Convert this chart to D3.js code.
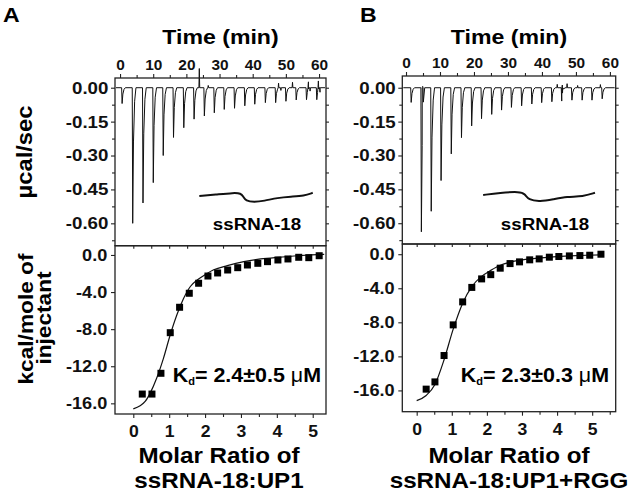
<!DOCTYPE html>
<meta charset="utf-8">
<style>
body { margin: 0; background: #fff; }
svg { font-family: "Liberation Sans", Arial, sans-serif; font-weight: bold; }
.frame { fill: none; stroke: #222; stroke-width: 1.3; }
.axis path { display: none; }
.axis line { stroke: #222; stroke-width: 1.1; }
.axis text { fill: #111; font-weight: bold; font-family: "Liberation Sans", Arial, sans-serif; }
</style>
<svg width="629" height="494"></svg>
<script src="https://d3js.org/d3.v7.min.js"></script>
<script>

// raw thermograms: injection time (min) and peak height (µcal/sec)
var injTimeA = [0.5, 3.7, 6.8, 9.9, 12.9, 16.0, 19.1, 22.2, 25.3, 28.3, 31.3, 34.4, 37.5, 40.5, 43.7, 46.8, 49.9, 53.0, 56.1, 59.2];
var peakA = [-0.07, -0.60, -0.51, -0.42, -0.30, -0.22, -0.177, -0.139, -0.125, -0.111, -0.096, -0.091, -0.080, -0.073, -0.066, -0.066, -0.060, -0.054, -0.053, -0.053];
var noiseTimeA = [23.9, 26.6, 47.8, 48.5, 52.0, 56.8, 57.3, 59.8, 60.3];
var noiseA = [0.085, 0.010, 0.020, -0.012, 0.024, 0.026, -0.015, 0.030, -0.020];

var injTimeB = [1.4, 4.4, 7.3, 10.2, 13.2, 16.2, 19.2, 22.1, 25.1, 28.0, 30.9, 33.9, 36.9, 39.8, 42.8, 45.7, 48.7, 51.7, 54.6, 57.6];
var peakB = [-0.065, -0.638, -0.547, -0.411, -0.293, -0.221, -0.169, -0.137, -0.118, -0.099, -0.087, -0.080, -0.072, -0.066, -0.062, -0.059, -0.055, -0.055, -0.055, -0.049];
var noiseTimeB = [4.9, 44.5, 46.0, 47.4, 50.5, 57.2];
var noiseB = [0.006, 0.015, 0.012, 0.018, 0.010, 0.014];

// integrated heats: molar ratio and kcal/mole of injectant
var ratioA = [0.25, 0.52, 0.77, 1.03, 1.29, 1.56, 1.82, 2.08, 2.35, 2.63, 2.91, 3.18, 3.47, 3.74, 4.03, 4.31, 4.61, 4.89, 5.18];
var heatA = [-15.0, -15.0, -12.76, -8.38, -5.64, -4.13, -3.05, -2.27, -1.94, -1.62, -1.37, -1.08, -0.90, -0.72, -0.54, -0.43, -0.25, -0.29, -0.08];
var fitRatioA = [0.0, 0.19, 0.33, 0.47, 0.65, 0.84, 1.03, 1.21, 1.40, 1.59, 1.78, 2.01, 2.24, 2.62, 3.08, 3.55, 4.02, 4.48, 4.95, 5.32];
var fitHeatA = [-16.6, -16.25, -15.8, -14.9, -13.3, -11.15, -8.6, -6.5, -4.7, -3.4, -2.7, -2.1, -1.6, -1.15, -0.72, -0.43, -0.25, -0.11, 0.0, 0.07];

var ratioB = [0.27, 0.52, 0.78, 1.04, 1.31, 1.57, 1.85, 2.11, 2.38, 2.66, 2.93, 3.22, 3.49, 3.78, 4.05, 4.35, 4.65, 4.93, 5.25];
var heatB = [-15.85, -15.0, -11.9, -8.3, -5.6, -3.9, -2.9, -2.4, -1.64, -1.1, -0.9, -0.66, -0.55, -0.35, -0.27, -0.2, -0.16, -0.12, 0.0];
var fitRatioB = [0.0, 0.27, 0.52, 0.78, 1.04, 1.31, 1.57, 1.85, 2.11, 2.38, 2.66, 2.94, 3.42, 3.89, 4.36, 4.84, 5.25];
var fitHeatB = [-17.2, -16.6, -15.3, -12.4, -8.8, -5.75, -3.8, -2.6, -1.9, -1.3, -0.94, -0.7, -0.47, -0.31, -0.2, -0.12, -0.08];

// ssRNA cartoon drawn inside the thermogram (time, µcal/sec)
var rnaTimeA = [23.9, 29.3, 34.3, 36.4, 37.2, 37.9, 40.4, 43.4, 47.5, 51.5, 55.5, 58.1];
var rnaValA = [-0.479, -0.472, -0.465, -0.467, -0.482, -0.501, -0.506, -0.501, -0.487, -0.482, -0.479, -0.465];
var rnaTimeB = [22.7, 27.6, 33.5, 35.0, 36.0, 39.4, 43.3, 47.3, 52.1, 55.6];
var rnaValB = [-0.475, -0.465, -0.46, -0.47, -0.497, -0.504, -0.494, -0.482, -0.482, -0.465];

var timeTicks = [0, 10, 20, 30, 40, 50, 60];
var powerTicks = [0, -0.15, -0.30, -0.45, -0.60];
var heatTicks = [0, -4, -8, -12, -16];
var ratioTicks = [0, 1, 2, 3, 4, 5];

var svg = d3.select("svg");
var STRETCH = "scale(1.1,1)";

function thermoPoints(times, peaks, nTimes, nVals, t0, t1) {
  var pts = [[t0, 0], [t1, 0]];
  times.forEach(function(t, i) {
    var d = peaks[i];
    pts.push([t - 0.02, 0], [t + 0.12, d], [t + 0.35, d * 0.4], [t + 0.7, d * 0.1], [t + 1.1, 0]);
  });
  nTimes.forEach(function(t, i) {
    pts.push([t - 0.12, 0], [t, nVals[i]], [t + 0.12, 0]);
  });
  return pts.sort(function(a, b) { return a[0] - b[0]; });
}

function label(x, y, size, txt, anchor) {
  return svg.append("text").attr("transform", "translate(" + x + "," + y + ") " + STRETCH)
    .attr("text-anchor", anchor || "middle").style("font-size", size + "px").text(txt);
}

function panel(c) {
  var g = svg.append("g");
  var xT = d3.scaleLinear().domain(c.tDom).range([c.x0, c.x1]);
  var yT = d3.scaleLinear().domain(c.pDom).range([c.yTop, c.yMid]);
  var xM = d3.scaleLinear().domain(c.mDom).range([c.x0, c.x1]);
  var yM = d3.scaleLinear().domain(c.hDom).range([c.yMid, c.yBot]);

  // top plot axes
  g.append("g").attr("class", "axis").attr("transform", "translate(0," + c.yTop + ")")
    .call(d3.axisTop(xT).tickValues(timeTicks).tickSize(4).tickPadding(4).tickFormat(d3.format("d")))
    .selectAll("text").style("font-size", "14px").attr("transform", STRETCH);
  g.append("g").attr("class", "axis").attr("transform", "translate(0," + c.yTop + ")")
    .call(d3.axisTop(xT).tickValues(d3.range(5, 61, 10)).tickSize(3).tickFormat(""));
  g.append("g").attr("class", "axis").attr("transform", "translate(" + c.x0 + ",0)")
    .call(d3.axisLeft(yT).tickValues(powerTicks).tickSize(4).tickPadding(2)
      .tickFormat(function(d) { return d.toFixed(2); }))
    .selectAll("text").style("font-size", "17px").attr("transform", STRETCH);
  g.append("g").attr("class", "axis").attr("transform", "translate(" + c.x0 + ",0)")
    .call(d3.axisLeft(yT).tickValues(d3.range(-0.075, -0.7, -0.15)).tickSize(3).tickFormat(""));
  g.append("g").attr("class", "axis").attr("transform", "translate(" + c.x1 + ",0)")
    .call(d3.axisRight(yT).tickValues(d3.range(0, -0.7, -0.075)).tickSize(3).tickFormat(""));

  // thermogram trace
  var trace = thermoPoints(c.inj, c.peak, c.nT, c.nV, c.tDom[0] + 0.3, c.tDom[1] - 0.3);
  g.append("path").datum(trace)
    .attr("fill", "none").attr("stroke", "#111").attr("stroke-width", 1)
    .attr("d", d3.line().x(function(d) { return xT(d[0]); }).y(function(d) { return yT(d[1]); }));

  // ssRNA cartoon
  g.append("path").datum(d3.zip(c.rnaT, c.rnaV))
    .attr("fill", "none").attr("stroke", "#111").attr("stroke-width", 2)
    .attr("d", d3.line().curve(d3.curveBasis)
      .x(function(d) { return xT(d[0]); }).y(function(d) { return yT(d[1]); }));
  label(c.rnaLabelX, 230, 17, "ssRNA-18");

  g.append("rect").attr("class", "frame")
    .attr("x", c.x0).attr("y", c.yTop).attr("width", c.x1 - c.x0).attr("height", c.yMid - c.yTop);

  // lower plot axes
  g.append("g").attr("class", "axis").attr("transform", "translate(0," + c.yBot + ")")
    .call(d3.axisBottom(xM).tickValues(ratioTicks).tickSize(4).tickPadding(8).tickFormat(d3.format("d")))
    .selectAll("text").style("font-size", "16px").attr("transform", STRETCH);
  g.append("g").attr("class", "axis").attr("transform", "translate(0," + c.yBot + ")")
    .call(d3.axisBottom(xM).tickValues(d3.range(0.5, c.mDom[1], 1)).tickSize(3).tickFormat(""));
  g.append("g").attr("class", "axis").attr("transform", "translate(0," + c.yMid + ")")
    .call(d3.axisBottom(xM).tickValues(d3.range(0, c.mDom[1], 0.5)).tickSize(3).tickFormat(""));
  g.append("g").attr("class", "axis").attr("transform", "translate(" + c.x0 + ",0)")
    .call(d3.axisLeft(yM).tickValues(heatTicks).tickSize(4).tickPadding(3)
      .tickFormat(function(d) { return d.toFixed(1); }))
    .selectAll("text").style("font-size", "16.5px").attr("transform", STRETCH);
  g.append("g").attr("class", "axis").attr("transform", "translate(" + c.x0 + ",0)")
    .call(d3.axisLeft(yM).tickValues(d3.range(-2, c.hDom[0], -4)).tickSize(3).tickFormat(""));
  g.append("g").attr("class", "axis").attr("transform", "translate(" + c.x1 + ",0)")
    .call(d3.axisLeft(yM).tickValues(d3.range(0, c.hDom[0], -2)).tickSize(3).tickFormat(""));

  // fit curve and data
  g.append("path").datum(d3.zip(c.fitX, c.fitY))
    .attr("fill", "none").attr("stroke", "#111").attr("stroke-width", 1.2)
    .attr("d", d3.line().curve(d3.curveMonotoneX)
      .x(function(d) { return xM(d[0]); }).y(function(d) { return yM(d[1]); }));
  g.selectAll(".pt").data(d3.zip(c.ratio, c.heat)).enter().append("rect")
    .attr("x", function(d) { return xM(d[0]) - 3.5; })
    .attr("y", function(d) { return yM(d[1]) - 3.5; })
    .attr("width", 7).attr("height", 7).attr("fill", "#000");

  g.append("rect").attr("class", "frame")
    .attr("x", c.x0).attr("y", c.yMid).attr("width", c.x1 - c.x0).attr("height", c.yBot - c.yMid);

  // Kd label
  var kd = label(c.kdX, 381.7, 19.5, null, "end");
  kd.append("tspan").text("K");
  kd.append("tspan").attr("dy", 3).style("font-size", "10px").text("d");
  kd.append("tspan").attr("dy", -3).text("= " + c.kd + " ");
  kd.append("tspan").style("font-weight", "normal").text("\u03bc");
  kd.append("tspan").text("M");

  // titles
  label((c.x0 + c.x1) / 2, 44, 21, "Time (min)");
  label(c.letterX, 22, 21, c.letter, "start");
  label(c.titleX, 463, 22, "Molar Ratio of");
  label(c.titleX, 488, 22, c.sample);
}

panel({
  letter: "A", letterX: 3, x0: 115, x1: 326, yTop: 78, yMid: 245.7, yBot: 414,
  tDom: [-1.52, 62.1], pDom: [0.043, -0.699], mDom: [-0.51, 5.37], hDom: [1.0, -17.15],
  inj: injTimeA, peak: peakA, nT: noiseTimeA, nV: noiseA,
  rnaT: rnaTimeA, rnaV: rnaValA, rnaLabelX: 257,
  ratio: ratioA, heat: heatA, fitX: fitRatioA, fitY: fitHeatA,
  kd: "2.4\u00b10.5", kdX: 321, titleX: 219, sample: "ssRNA-18:UP1"
});

panel({
  letter: "B", letterX: 360, x0: 402.3, x1: 615.7, yTop: 76, yMid: 244, yBot: 411.7,
  tDom: [-1.09, 61.7], pDom: [0.052, -0.692], mDom: [-0.41, 5.67], hDom: [1.2, -18.5],
  inj: injTimeB, peak: peakB, nT: noiseTimeB, nV: noiseB,
  rnaT: rnaTimeB, rnaV: rnaValB, rnaLabelX: 545,
  ratio: ratioB, heat: heatB, fitX: fitRatioB, fitY: fitHeatB,
  kd: "2.3\u00b10.3", kdX: 609, titleX: 509, sample: "ssRNA-18:UP1+RGG"
});

// y axis titles (panel A only)
svg.append("text").attr("transform", "translate(32,152) rotate(-90) scale(1.08,1)").attr("text-anchor", "middle")
  .style("font-size", "22px").text("\u00b5cal/sec");
svg.append("text").attr("transform", "translate(33,319) rotate(-90) scale(1.08,1)").attr("text-anchor", "middle")
  .style("font-size", "21px").text("kcal/mole of");
svg.append("text").attr("transform", "translate(51,318) rotate(-90) scale(1.08,1)").attr("text-anchor", "middle")
  .style("font-size", "21px").text("injectant");

</script>
